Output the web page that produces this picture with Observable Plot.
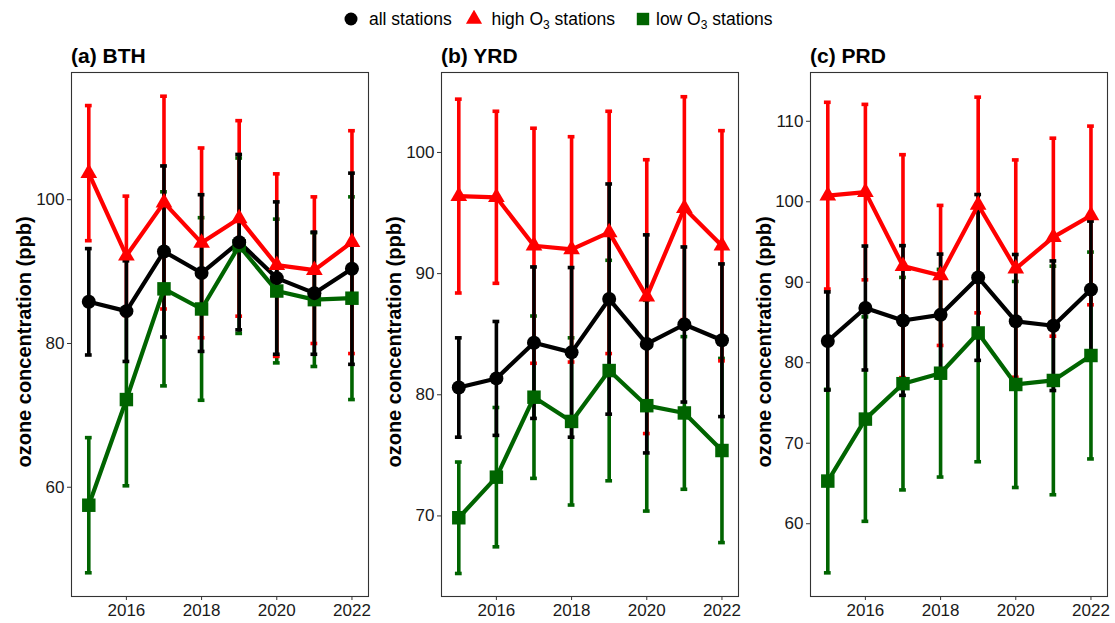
<!DOCTYPE html>
<html>
<head>
<meta charset="utf-8">
<script src="https://cdn.jsdelivr.net/npm/d3@7"></script>
<script src="https://cdn.jsdelivr.net/npm/@observablehq/plot@0.6"></script>
<style>
  body { margin: 0; background: #fff; }
  #root { position: relative; width: 1115px; height: 623px; font-family: "Liberation Sans", Arial, sans-serif; color: #000; }
  #root svg.plot { position: absolute; top: 0; overflow: visible; }
  .title { position: absolute; top: 44px; font-weight: bold; font-size: 21px; line-height: 24px; white-space: nowrap; }
  .ylab { position: absolute; top: 342px; font-weight: bold; font-size: 20px; white-space: nowrap; transform: translate(-50%, -50%) rotate(-90deg); }
  .leg { position: absolute; top: 8px; font-size: 17.5px; line-height: 22px; white-space: nowrap; }
  .leg sub { font-size: 12px; vertical-align: -4px; line-height: 0; }
  .legsym { position: absolute; top: 10px; }
</style>
</head>
<body>
<div id="root"></div>
<script>
// ---- data ----
const years = [2015, 2016, 2017, 2018, 2019, 2020, 2021, 2022];
const groups = ["all stations", "high O3 stations", "low O3 stations"];
const xTicks = [2016, 2018, 2020, 2022];

// (a) BTH
const bthAll    = [85.8, 84.5, 92.8, 89.8, 94.1, 89.1, 87.0, 90.4];
const bthAllSd  = [7.4, 7.0, 11.9, 10.9, 12.2, 10.6, 8.5, 13.3];
const bthHigh   = [103.7, 92.2, 99.6, 94.0, 97.4, 90.9, 90.2, 94.1];
const bthHighSd = [9.4, 8.3, 14.8, 13.2, 13.6, 12.7, 10.2, 15.5];
const bthLow    = [57.5, 72.2, 87.6, 84.8, 93.6, 87.3, 86.1, 86.3];
const bthLowSd  = [9.4, 12.0, 13.5, 12.7, 12.2, 10.0, 9.3, 14.1];
const bthTicks  = [60, 80, 100];

// (b) YRD
const yrdAll    = [80.6, 81.35, 84.3, 83.5, 87.9, 84.2, 85.8, 84.5];
const yrdAllSd  = [4.1, 4.7, 6.25, 7.0, 9.5, 9.0, 6.4, 6.3];
const yrdHigh   = [96.4, 96.3, 92.3, 92.0, 93.4, 88.1, 95.4, 92.3];
const yrdHighSd = [8.0, 7.1, 9.7, 9.3, 10.0, 11.3, 9.2, 9.5];
const yrdLow    = [69.85, 73.2, 79.8, 77.8, 82.0, 79.1, 78.5, 75.4];
const yrdLowSd  = [4.6, 5.75, 6.7, 6.9, 9.1, 8.7, 6.3, 7.6];
const yrdTicks  = [70, 80, 90, 100];

// (c) PRD
const prdAll    = [82.7, 86.8, 85.25, 85.95, 90.6, 85.15, 84.6, 89.1];
const prdAllSd  = [6.1, 7.7, 9.3, 7.55, 10.3, 8.3, 8.05, 8.5];
const prdHigh   = [100.76, 101.2, 92.0, 90.85, 99.6, 91.7, 95.6, 98.3];
const prdHighSd = [11.6, 10.9, 13.85, 8.7, 13.4, 13.5, 12.3, 11.1];
const prdLow    = [65.3, 73.0, 77.4, 78.7, 83.7, 77.3, 77.8, 80.9];
const prdLowSd  = [11.4, 12.7, 13.2, 12.9, 16.0, 12.8, 14.2, 12.85];
const prdTicks  = [60, 70, 80, 90, 100, 110];

// ---- styling / layout ----
const colors  = {"all stations": "#000000", "high O3 stations": "#FF0000", "low O3 stations": "#006400"};
const symbols = {"all stations": "circle", "high O3 stations": "triangle", "low O3 stations": "square"};
const radii   = {"all stations": 7, "high O3 stations": 6.2, "low O3 stations": 7.6};
const drawOrder = ["low O3 stations", "high O3 stations", "all stations"];

const panels = [
  {title: "(a) BTH", left: 0,   ml: 71, width: 372, mr: 4, yDomain: [44.8, 117.7], ticks: bthTicks,
   series: [bthAll, bthHigh, bthLow], sds: [bthAllSd, bthHighSd, bthLowSd]},
  {title: "(b) YRD", left: 370, ml: 71, width: 372, mr: 4, yDomain: [63.35, 106.6], ticks: yrdTicks,
   series: [yrdAll, yrdHigh, yrdLow], sds: [yrdAllSd, yrdHighSd, yrdLowSd]},
  {title: "(c) PRD", left: 740, ml: 70, width: 372, mr: 5, yDomain: [50.96, 116.06], ticks: prdTicks,
   series: [prdAll, prdHigh, prdLow], sds: [prdAllSd, prdHighSd, prdLowSd]}
];

const root = document.getElementById("root");
const capHalf = 0.09;

for (const p of panels) {
  const rows = [];
  groups.forEach((g, gi) => {
    years.forEach((yr, i) => {
      const m = p.series[gi][i], s = p.sds[gi][i];
      rows.push({group: g, year: yr, mean: m, lo: m - s, hi: m + s});
    });
  });
  const marks = [];
  // error bars
  for (const g of drawOrder) {
    const d = rows.filter(r => r.group === g);
    marks.push(Plot.ruleX(d, {x: "year", y1: "lo", y2: "hi", stroke: colors[g], strokeWidth: 3.6}));
    marks.push(Plot.ruleY(d, {y: "lo", x1: r => r.year - capHalf, x2: r => r.year + capHalf, stroke: colors[g], strokeWidth: 3.6}));
    marks.push(Plot.ruleY(d, {y: "hi", x1: r => r.year - capHalf, x2: r => r.year + capHalf, stroke: colors[g], strokeWidth: 3.6}));
  }
  // lines
  for (const g of drawOrder) {
    const d = rows.filter(r => r.group === g);
    marks.push(Plot.line(d, {x: "year", y: "mean", stroke: colors[g], strokeWidth: 4.2, strokeLinejoin: "round"}));
  }
  // points
  for (const g of drawOrder) {
    const d = rows.filter(r => r.group === g);
    marks.push(Plot.dot(d, {x: "year", y: "mean", symbol: () => symbols[g], fill: colors[g], stroke: "none", r: radii[g]}));
  }
  marks.push(Plot.frame({stroke: "#333", strokeWidth: 1.1}));
  marks.push(Plot.axisX({ticks: xTicks, tickFormat: d => String(d), tickSize: 4, tickPadding: 3, label: null, stroke: "#333"}));
  marks.push(Plot.axisY({ticks: p.ticks, tickSize: 4, tickPadding: 3, label: null, stroke: "#333"}));

  const svg = Plot.plot({
    width: p.width,
    height: 623,
    marginLeft: p.ml,
    marginRight: p.mr,
    marginTop: 72,
    marginBottom: 27,
    x: {domain: [2014.54, 2022.44]},
    y: {domain: p.yDomain},
    symbol: {type: "identity"},
    style: {fontSize: "17px", fontFamily: "Liberation Sans, Arial, sans-serif", color: "#1a1a1a", background: "transparent"},
    marks
  });
  svg.classList.add("plot");
  svg.style.left = p.left + "px";
  root.appendChild(svg);

  const t = document.createElement("div");
  t.className = "title";
  t.style.left = (p.left + p.ml) + "px";
  t.textContent = p.title;
  root.appendChild(t);

  const yl = document.createElement("div");
  yl.className = "ylab";
  yl.style.left = (p.left + 24) + "px";
  yl.textContent = "ozone concentration (ppb)";
  root.appendChild(yl);
}

// legend
const legendItems = [
  {g: "all stations", symX: 342, textX: 369, html: "all stations"},
  {g: "high O3 stations", symX: 464.5, textX: 491.5, html: "high O<sub>3</sub> stations"},
  {g: "low O3 stations", symX: 633.5, textX: 656, html: "low O<sub>3</sub> stations"}
];
for (const it of legendItems) {
  const s = d3.create("svg").attr("class", "legsym").attr("width", 18).attr("height", 18)
    .style("left", it.symX + "px");
  const sizes = {"all stations": Math.PI * 6.5 * 6.5, "high O3 stations": Math.PI * 6 * 6, "low O3 stations": Math.PI * 7 * 7};
  const sym = {"circle": d3.symbolCircle, "triangle": d3.symbolTriangle, "square": d3.symbolSquare}[symbols[it.g]];
  s.append("path").attr("transform", "translate(9,9)")
    .attr("d", d3.symbol(sym, sizes[it.g])())
    .attr("fill", colors[it.g]);
  root.appendChild(s.node());
  const tx = document.createElement("div");
  tx.className = "leg";
  tx.style.left = it.textX + "px";
  tx.innerHTML = it.html;
  root.appendChild(tx);
}
</script>
</body>
</html>
